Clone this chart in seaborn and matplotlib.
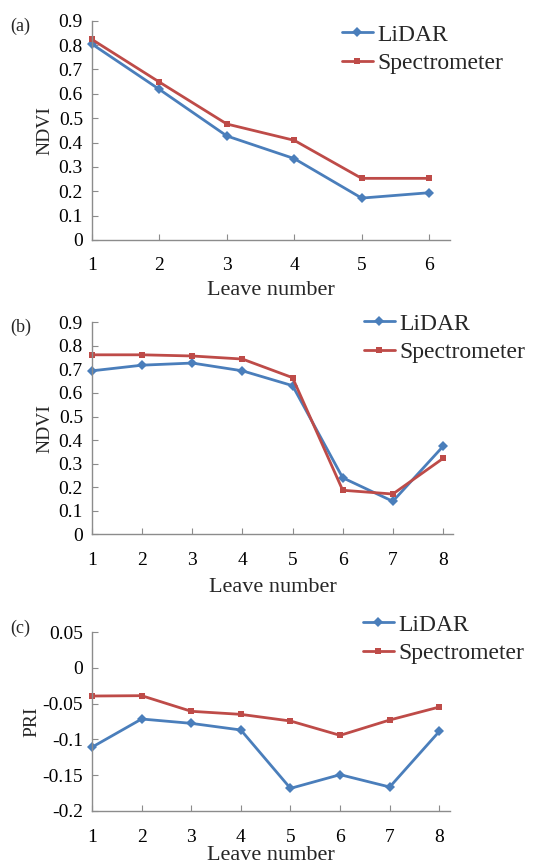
import matplotlib
matplotlib.use("Agg")
import matplotlib.pyplot as plt
import seaborn as sns
import pandas as pd
import numpy as np

# ---- data ----
leaves_a = [1, 2, 3, 4, 5, 6]
lidar_a = [0.804, 0.618, 0.427, 0.334, 0.172, 0.194]
spec_a = [0.823, 0.648, 0.476, 0.409, 0.253, 0.253]

leaves_b = [1, 2, 3, 4, 5, 6, 7, 8]
lidar_b = [0.694, 0.718, 0.727, 0.694, 0.631, 0.240, 0.140, 0.373]
spec_b = [0.762, 0.762, 0.757, 0.744, 0.665, 0.187, 0.171, 0.322]

leaves_c = [1, 2, 3, 4, 5, 6, 7, 8]
lidar_c = [-0.111, -0.0715, -0.0776, -0.0869, -0.1687, -0.1495, -0.1668, -0.0888]
spec_c = [-0.0393, -0.0388, -0.0607, -0.0650, -0.0743, -0.0944, -0.0729, -0.0547]

series_names = ["LiDAR", "Spectrometer"]
panel_labels = ["(a)", "(b)", "(c)"]
y_labels = ["NDVI", "NDVI", "PRI"]
x_label = "Leave number"
ndvi_ticks = [0, 0.1, 0.2, 0.3, 0.4, 0.5, 0.6, 0.7, 0.8, 0.9]
ndvi_tick_labels = ["0", "0.1", "0.2", "0.3", "0.4", "0.5", "0.6", "0.7", "0.8", "0.9"]
pri_ticks = [-0.2, -0.15, -0.1, -0.05, 0, 0.05]
pri_tick_labels = ["-0.2", "-0.15", "-0.1", "-0.05", "0", "0.05"]

sns.set_style("ticks")
plt.rcParams["font.family"] = ["Liberation Serif", "DejaVu Serif"]

W, H = 551, 867
fig = plt.figure(figsize=(W / 100, H / 100), dpi=100)

def px_axes(left, right, top, bottom):
    return fig.add_axes([left / W, 1 - bottom / H, (right - left) / W, (bottom - top) / H])

palette = {"LiDAR": "#4a7ebb", "Spectrometer": "#be4b48"}
markers = {"LiDAR": "D", "Spectrometer": "s"}

panels = [
    dict(x=leaves_a, l=lidar_a, s=spec_a, box=(92, 450, 20.7, 240), xlim=(1, 6.31),
         ylim=(0, 0.9), yt=ndvi_ticks, ytl=ndvi_tick_labels, leg=(342, 24), lab=(10, 26),
         xpad=12, xlp=5.3, ylp=3.5),
    dict(x=leaves_b, l=lidar_b, s=spec_b, box=(92, 453, 322.3, 534.3), xlim=(1, 8.2),
         ylim=(0, 0.9), yt=ndvi_ticks, ytl=ndvi_tick_labels, leg=(364, 313), lab=(10, 327),
         xpad=12.6, xlp=6.8, ylp=3.5),
    dict(x=leaves_c, l=lidar_c, s=spec_c, box=(92, 450, 632.3, 810.7), xlim=(1, 8.215),
         ylim=(-0.2, 0.05), yt=pri_ticks, ytl=pri_tick_labels, leg=(363, 614), lab=(10, 628),
         xpad=13, xlp=0, ylp=1.5),
]

for i, p in enumerate(panels):
    ax = px_axes(*p["box"])
    df = pd.DataFrame({
        "Leaf": list(p["x"]) * 2,
        "Value": list(p["l"]) + list(p["s"]),
        "Source": [series_names[0]] * len(p["x"]) + [series_names[1]] * len(p["x"]),
    })
    sns.lineplot(data=df, x="Leaf", y="Value", hue="Source", style="Source",
                 markers=markers, dashes=False, palette=palette, linewidth=2.0,
                 markersize=5, markeredgewidth=0, ax=ax, clip_on=False)
    ax.set_xlim(*p["xlim"])
    ax.set_ylim(*p["ylim"])
    ax.set_xticks(p["x"])
    ax.set_xticklabels([str(v) for v in p["x"]])
    ax.set_yticks(p["yt"])
    ax.set_yticklabels(p["ytl"])
    for side in ["top", "right"]:
        ax.spines[side].set_visible(False)
    for side in ["left", "bottom"]:
        ax.spines[side].set_color("#8c8c8c")
        ax.spines[side].set_linewidth(1.0)
    ax.tick_params(axis="both", direction="in", length=4, width=0.8, color="#8c8c8c",
                   labelsize=14, labelcolor="black")
    ax.tick_params(axis="y", pad=6.5)
    ax.tick_params(axis="x", pad=p["xpad"])
    ax.set_xlabel(x_label, fontsize=16, labelpad=p["xlp"])
    ax.set_ylabel(y_labels[i], fontsize=14, labelpad=p["ylp"])
    ax.legend_.remove()
    handles, labels = ax.get_legend_handles_labels()
    lx, ly = p["leg"]
    ax.legend(handles, labels, loc="upper left", bbox_to_anchor=(lx / W, 1 - ly / H),
              bbox_transform=fig.transFigure, frameon=False, fontsize=17,
              handlelength=1.3, handletextpad=0.2, labelspacing=0.3, borderpad=0,
              borderaxespad=0)
    fig.text(p["lab"][0] / W, 1 - p["lab"][1] / H, panel_labels[i], fontsize=13,
             ha="left", va="center")

fig.savefig("out.png", dpi=100)
